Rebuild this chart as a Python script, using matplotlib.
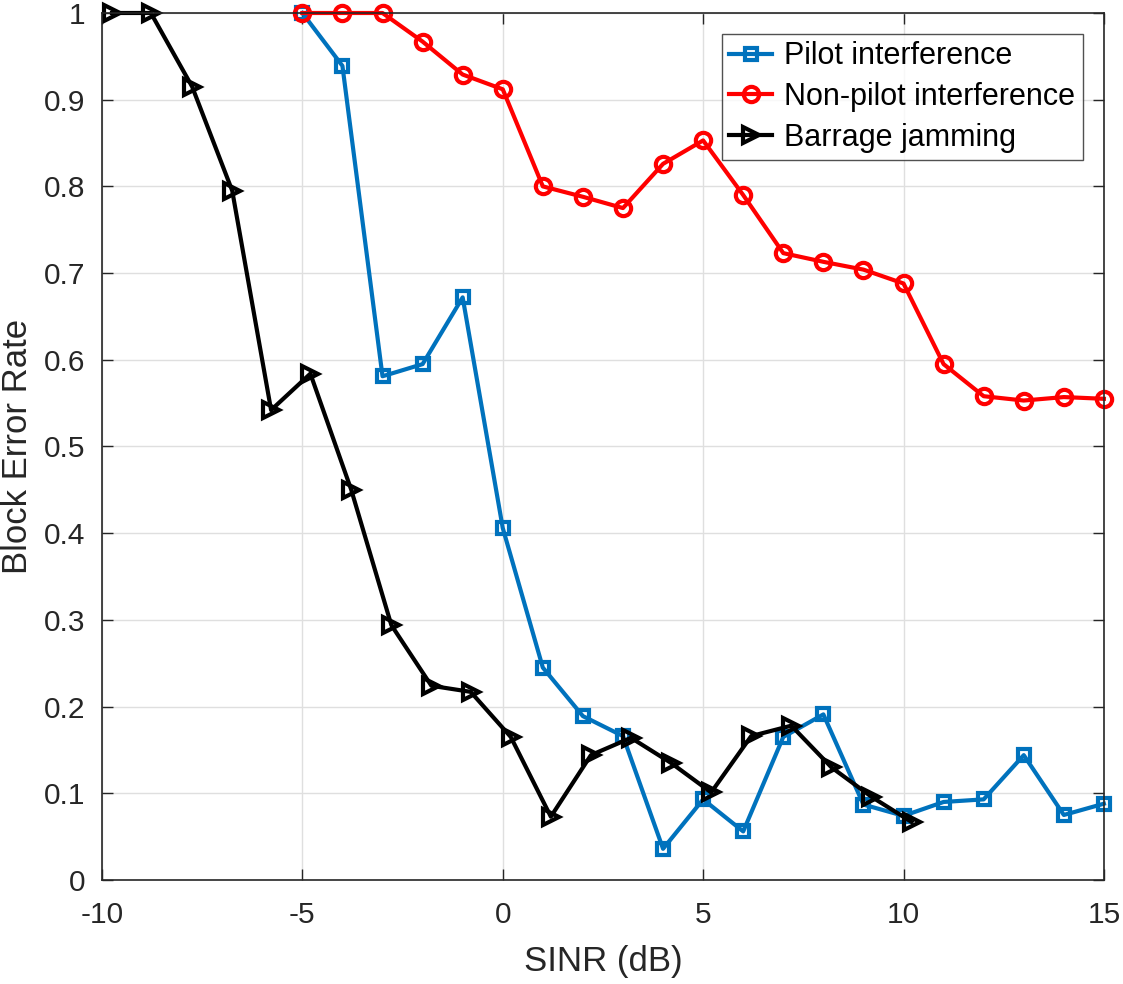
import numpy as np
import matplotlib.pyplot as plt

plt.rcParams['font.family'] = ['Liberation Sans', 'DejaVu Sans']
plt.rcParams['axes.unicode_minus'] = False

sinr = np.arange(-5, 16)
pilot = [1.0, 0.939, 0.581, 0.595, 0.672, 0.406, 0.245, 0.189, 0.166, 0.036, 0.093,
         0.056, 0.165, 0.191, 0.087, 0.074, 0.090, 0.093, 0.144, 0.075, 0.088]
nonpilot = [1.0, 1.0, 1.0, 0.967, 0.929, 0.912, 0.800, 0.788, 0.775, 0.826, 0.853,
            0.790, 0.723, 0.713, 0.704, 0.688, 0.595, 0.558, 0.553, 0.557, 0.555]

sinr_jam = [-9.75, -8.78, -7.75, -6.75, -5.78, -4.8, -3.78, -2.78, -1.78, -0.8, 0.2,
            1.2, 2.2, 3.2, 4.2, 5.2, 6.2, 7.2, 8.2, 9.2, 10.2]
jam = [1.0, 1.0, 0.915, 0.795, 0.542, 0.584, 0.45, 0.294, 0.224, 0.217, 0.165,
       0.073, 0.144, 0.164, 0.135, 0.101, 0.166, 0.178, 0.130, 0.096, 0.067]

fig = plt.figure(figsize=(11.23, 9.84), dpi=100)
ax = fig.add_axes([0.0908, 0.1057, 0.8922, 0.8811])

ax.plot(sinr, pilot, '-s', color='#0072BD', lw=3, ms=9, mew=3, mfc='none',
        label='Pilot interference', clip_on=False)
ax.plot(sinr, nonpilot, '-o', color='#FF0000', lw=3, ms=11, mew=3, mfc='none',
        label='Non-pilot interference', clip_on=False)
ax.plot(sinr_jam, jam, '->', color='black', lw=3, ms=12, mew=3, mfc='none',
        label='Barrage jamming', clip_on=False)

ax.set_xlim(-10, 15)
ax.set_ylim(0, 1)
ax.set_xticks(np.arange(-10, 16, 5))
ax.set_yticks(np.arange(0, 1.01, 0.1))
ax.set_yticklabels(['0', '0.1', '0.2', '0.3', '0.4', '0.5', '0.6', '0.7', '0.8', '0.9', '1'])
ax.tick_params(direction='in', labelsize=21.5, length=8, width=1, colors='#262626',
               top=True, right=True)
ax.tick_params(axis='y', pad=12)
ax.tick_params(axis='x', pad=15)
for s in ax.spines.values():
    s.set_color('#262626')
    s.set_linewidth(1.2)
ax.grid(True, color='#DFDFDF', lw=1)
ax.set_axisbelow(True)

ax.set_xlabel('SINR (dB)', fontsize=25, color='#262626', labelpad=12)
ax.set_ylabel('Block Error Rate', fontsize=25, color='#262626')
ax.yaxis.set_label_coords(-0.068, 0.5)

leg = ax.legend(loc='upper right', fontsize=22, frameon=True, fancybox=False,
                edgecolor='#262626', borderpad=0.25, labelspacing=0.35,
                handlelength=1.4, handletextpad=0.4, borderaxespad=0,
                bbox_to_anchor=(0.979, 0.976))
leg.get_frame().set_linewidth(1.0)

fig.savefig('out.png', dpi=100)
